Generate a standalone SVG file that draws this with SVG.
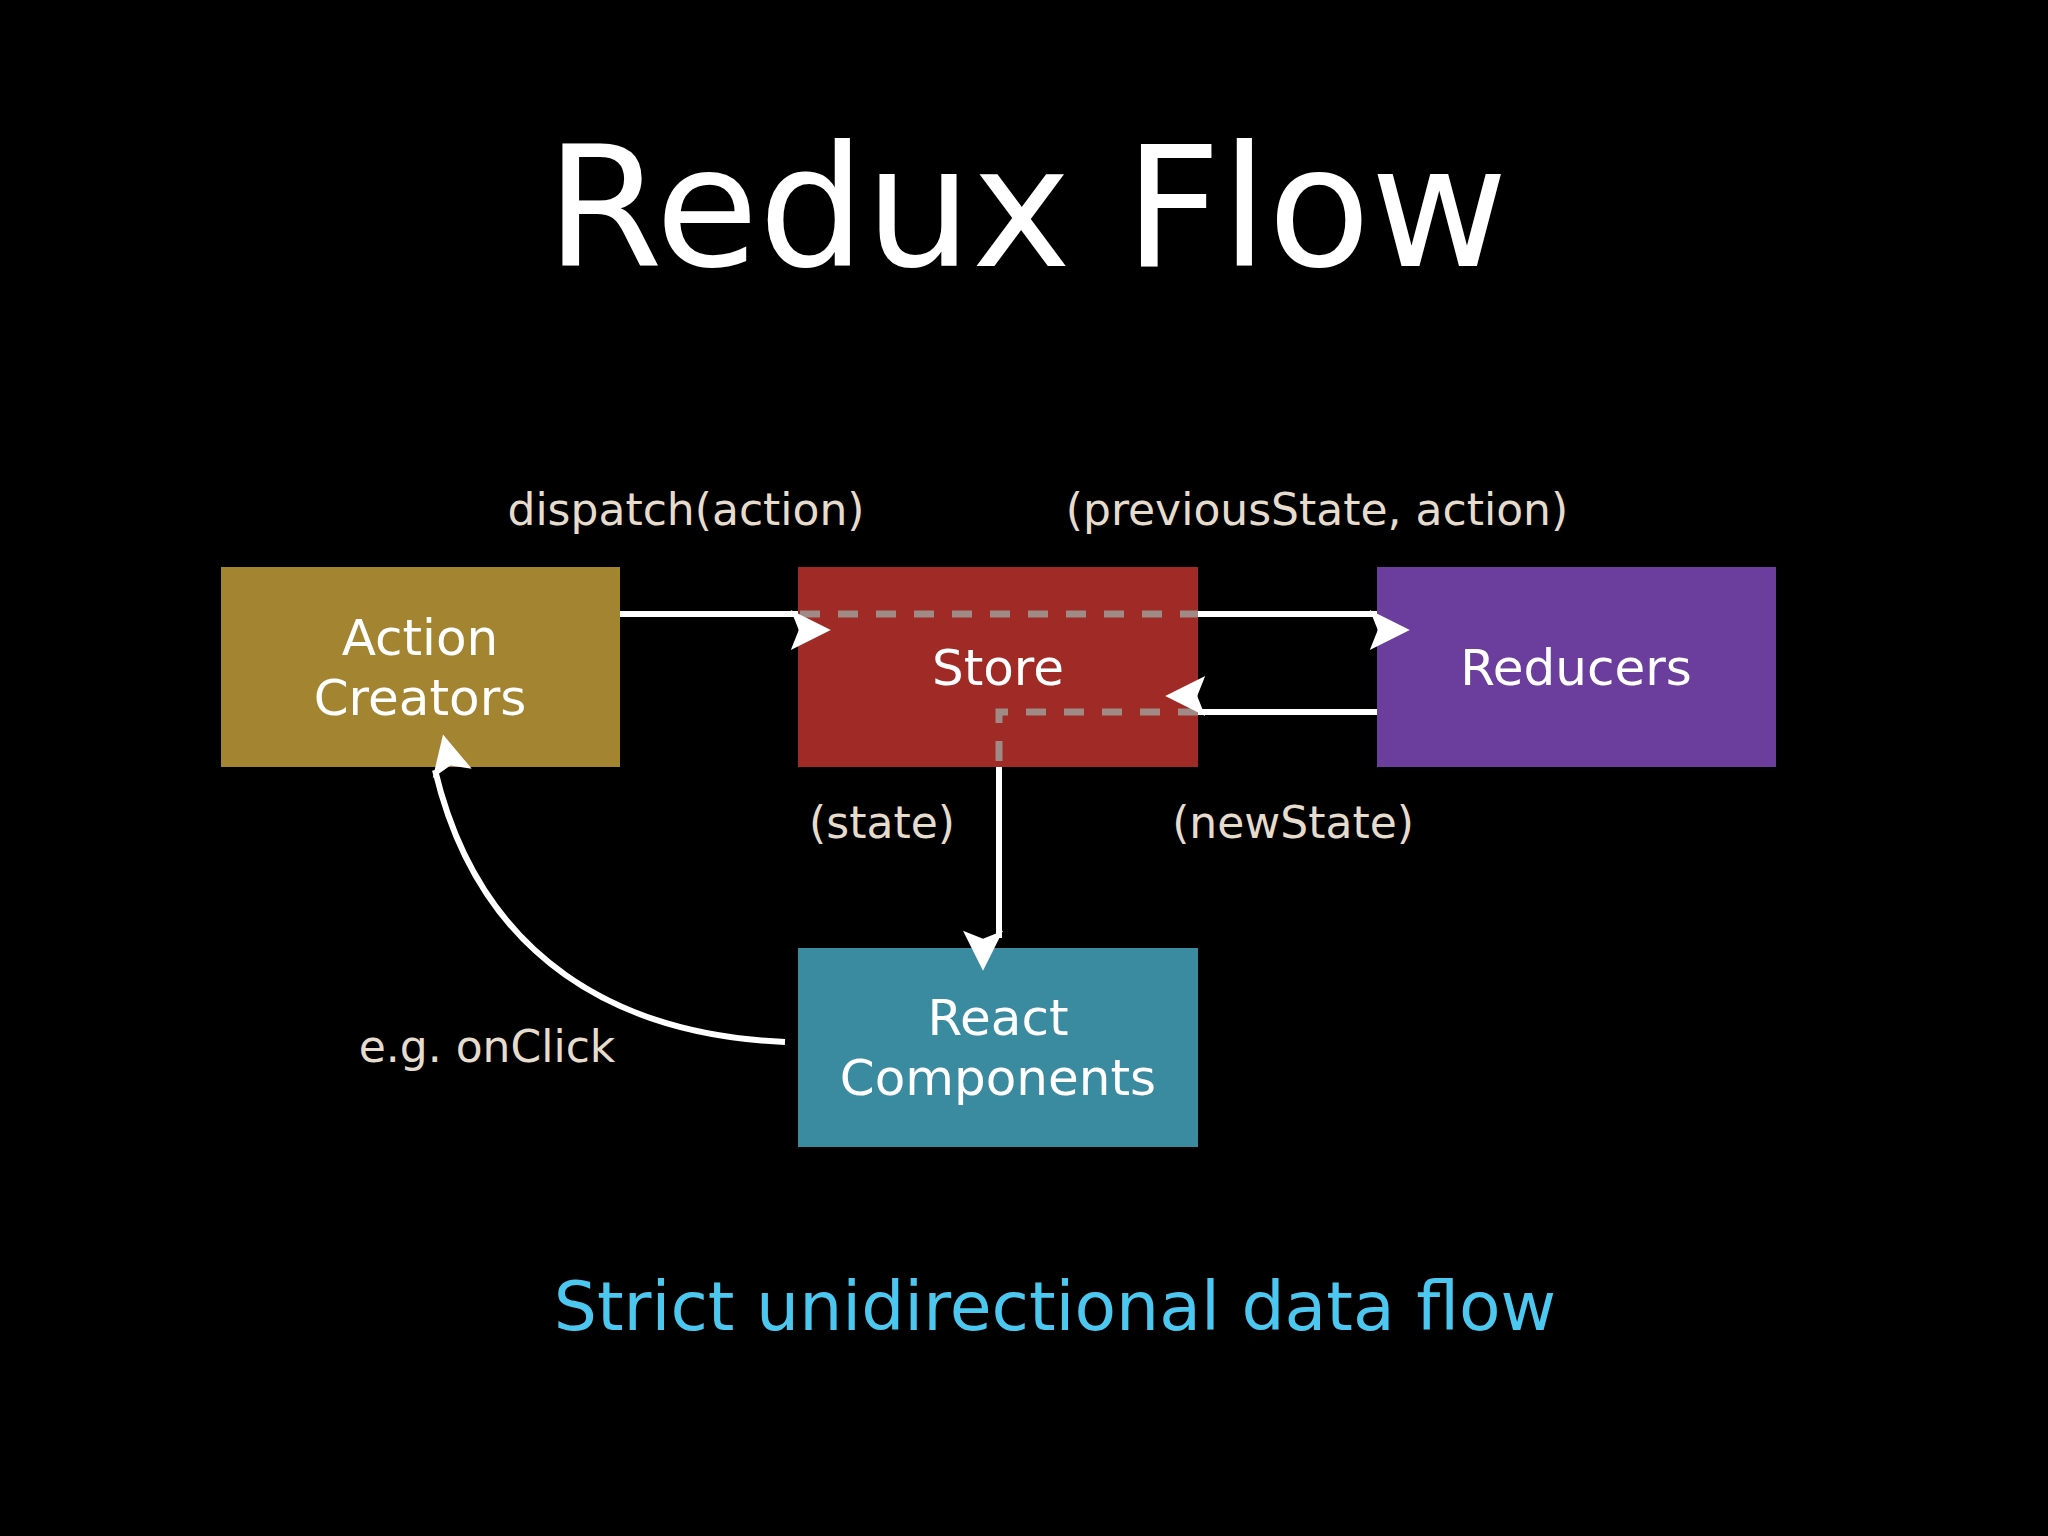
<svg xmlns="http://www.w3.org/2000/svg" width="2048" height="1536" viewBox="0 0 2048 1536">
<style>
text{font-family:"DejaVu Sans","Liberation Sans",sans-serif;text-anchor:middle}
.lbl{fill:#e6dccd;font-size:44px}
.box{fill:#fff;font-size:50px}
.arr{stroke:#fff;stroke-width:6;fill:none;marker-end:url(#ah)}
.dash{stroke:#a08a86;stroke-width:7;fill:none;stroke-dasharray:20 18}
</style>
<defs><marker id="ah" viewBox="0 0 10 10" refX="9" refY="5" markerWidth="8" markerHeight="8" markerUnits="userSpaceOnUse" orient="auto" style="overflow:visible"><path d="M0,0 L10,5 L0,10 L2,5 Z" fill="#fff" transform="scale(5) translate(-5,-5) translate(5,5)"/></marker></defs>
<rect width="2048" height="1536" fill="#000"/>
<text x="1027" y="266" fill="#fff" font-size="168">Redux Flow</text>
<g id="action"><rect x="221" y="567" width="399" height="200" fill="#a38431"/><text class="box" x="420" y="655">Action</text><text class="box" x="420" y="715">Creators</text></g>
<g id="store"><rect x="798" y="567" width="400" height="200" fill="#a02a25"/><text class="box" x="998" y="685">Store</text></g>
<g id="reducers"><rect x="1377" y="567" width="399" height="200" fill="#6b3d9c"/><text class="box" x="1576" y="685">Reducers</text></g>
<g id="react"><rect x="798" y="948" width="400" height="199" fill="#3a8aa0"/><text class="box" x="998" y="1035">React</text><text class="box" x="998" y="1095">Components</text></g>
<g id="connectors">
<path class="dash" d="M800,614 H1198"/>
<path class="dash" d="M1198,712 H999 V767"/>
<path class="arr" d="M620,614 H798"/>
<path class="arr" d="M1198,614 H1377"/>
<path class="arr" d="M1377,712 H1198"/>
<path class="arr" d="M999,767 V938"/>
<path class="arr" d="M785,1042 C620,1035 480,960 435,770"/>
</g>
<text class="lbl" x="686" y="525">dispatch(action)</text>
<text class="lbl" x="1317" y="525">(previousState, action)</text>
<text class="lbl" x="882" y="838">(state)</text>
<text class="lbl" x="1293" y="838">(newState)</text>
<text class="lbl" x="487" y="1062">e.g. onClick</text>
<text x="1055" y="1330" fill="#4cc8f0" font-size="68">Strict unidirectional data flow</text>
</svg>
